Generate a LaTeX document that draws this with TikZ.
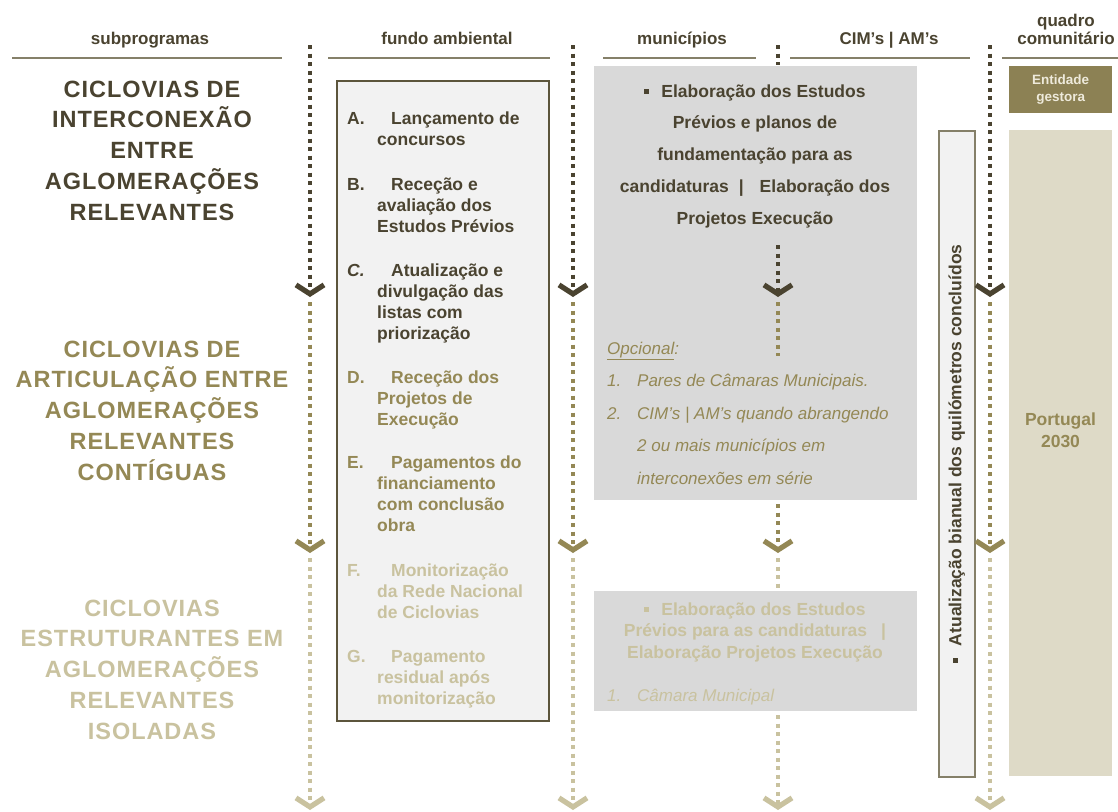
\documentclass[tikz,border=0pt]{standalone}
\usepackage{fontspec}
\setmainfont{Liberation Sans}
\usetikzlibrary{arrows.meta}

\definecolor{dk}{HTML}{4A4330}
\definecolor{ol}{HTML}{948855}
\definecolor{lt}{HTML}{C9C29F}
\definecolor{rulec}{HTML}{858069}
\definecolor{boxgray}{HTML}{D9D9D9}
\definecolor{panel}{HTML}{F2F2F2}
\definecolor{framec}{HTML}{5C553C}
\definecolor{entfill}{HTML}{8C8154}
\definecolor{enttext}{HTML}{EEEADB}
\definecolor{ptfill}{HTML}{DEDAC7}

% small square bullet
\newcommand\sqbul{\rule[0.2em]{0.28em}{0.28em}}

\begin{document}
\begin{tikzpicture}[x=1pt,y=-1pt,
  hdr/.style={font=\fontsize{17}{20}\selectfont\bfseries, text=dk, inner sep=0, anchor=base},
  hrule/.style={draw=rulec, line width=2pt},
  title/.style={font=\fontsize{23.5}{30.75}\selectfont\bfseries\addfontfeature{LetterSpace=4}, inner sep=0, anchor=base},
  item/.style={font=\fontsize{17.5}{21.3}\selectfont\bfseries, inner sep=0, anchor=base west},
  grayblock/.style={fill=boxgray, draw=none, inner sep=0, anchor=north west},
  panelbox/.style={fill=panel, draw=framec, line width=1.5pt, inner sep=0, anchor=north west},
  flow/.style={line width=4pt, dash pattern=on 4pt off 4.5pt},
  flowtip/.style={flow, -{Straight Barb[length=9pt,width=28pt,line width=5.2pt]}}
]
\useasboundingbox (0,0) rectangle (1118,811);
\fill[white] (0,0) rectangle (1118,811);

% ---------- column headers ----------
\node[hdr] (hsub) at (150,44) {subprogramas};
\node[hdr] (hfun) at (447,44) {fundo ambiental};
\node[hdr] (hmun) at (682,44) {municípios};
\node[hdr] (hcim) at (889,44) {CIM’s | AM’s};
\node[hdr] (hqua) at (1066,26) {\begin{tabular}[t]{@{}c@{}}quadro\\[-2pt]comunitário\end{tabular}};

\coordinate (r1a) at (12,58);   \coordinate (r1b) at (282,58);
\coordinate (r2a) at (328,58);  \coordinate (r2b) at (550,58);
\coordinate (r3a) at (603,58);  \coordinate (r3b) at (756,58);
\coordinate (r4a) at (790,58);  \coordinate (r4b) at (970,58);
\coordinate (r5a) at (1002,58); \coordinate (r5b) at (1118,58);
\draw[hrule] (r1a) -- (r1b);
\draw[hrule] (r2a) -- (r2b);
\draw[hrule] (r3a) -- (r3b);
\draw[hrule] (r4a) -- (r4b);
\draw[hrule] (r5a) -- (r5b);

% ---------- boxes ----------
\node[panelbox, minimum width=212pt, minimum height=640pt] (fundo) at (336,80) {};
\node[grayblock, minimum width=323pt, minimum height=434pt] (munA) at (594,66) {};
\node[grayblock, minimum width=323pt, minimum height=120pt] (munB) at (594,591) {};
\node[panelbox, draw=rulec, minimum width=36pt, minimum height=646pt] (atual) at (938,130) {};
\node[fill=entfill, inner sep=0, anchor=north west, minimum width=103pt, minimum height=47pt] (ent) at (1009,66) {};
\node[fill=ptfill, inner sep=0, anchor=north west, minimum width=103pt, minimum height=646pt] (pt) at (1009,130) {};

% ---------- dotted flow lines ----------
\foreach \c/\x in {a/310, b/573, d/990}{
  \coordinate (\c0) at (\x,45);
  \coordinate (\c1) at (\x,297);
  \coordinate (\c2) at (\x,302);
  \coordinate (\c3) at (\x,553);
  \coordinate (\c4) at (\x,558);
  \coordinate (\c5) at (\x,810);
  \draw[flowtip, dk] (\c0) -- (\c1);
  \draw[flowtip, ol] (\c2) -- (\c3);
  \draw[flowtip, lt] (\c4) -- (\c5);
}
% municipal column: interrupted by the grey blocks
\coordinate (m0) at (778,45);  \coordinate (m0e) at (778,65);
\coordinate (m1s) at (778,245); \coordinate (m1) at (778,297);
\coordinate (m2) at (778,302); \coordinate (m2e) at (778,356);
\coordinate (m3s) at (778,504); \coordinate (m3) at (778,553);
\coordinate (m4) at (778,558); \coordinate (m4e) at (778,590);
\coordinate (m5s) at (778,715); \coordinate (m5) at (778,810);
\draw[flow, dk] (m0) -- (m0e);
\draw[flowtip, dk] (m1s) -- (m1);
\draw[flow, ol] (m2) -- (m2e);
\draw[flowtip, ol] (m3s) -- (m3);
\draw[flow, lt] (m4) -- (m4e);
\draw[flowtip, lt] (m5s) -- (m5);

% ---------- subprogram titles ----------
\node[title, text=dk] (t1) at (152,97) {\begin{tabular}[t]{@{}c@{}}CICLOVIAS DE\\INTERCONEXÃO\\ENTRE\\AGLOMERAÇÕES\\RELEVANTES\end{tabular}};
\node[title, text=ol] (t2) at (152,357) {\begin{tabular}[t]{@{}c@{}}CICLOVIAS DE\\ARTICULAÇÃO ENTRE\\AGLOMERAÇÕES\\RELEVANTES\\CONTÍGUAS\end{tabular}};
\node[title, text=lt] (t3) at (152,616) {\begin{tabular}[t]{@{}c@{}}CICLOVIAS\\ESTRUTURANTES EM\\AGLOMERAÇÕES\\RELEVANTES\\ISOLADAS\end{tabular}};

% ---------- fundo ambiental steps ----------
\node[item, text=dk] (fa) at (347,124) {\begin{tabular}[t]{@{}l@{}l@{}}\makebox[30pt][l]{A.} & \hspace{14pt}Lançamento de\\ & concursos\end{tabular}};
\node[item, text=dk] (fb) at (347,190) {\begin{tabular}[t]{@{}l@{}l@{}}\makebox[30pt][l]{B.} & \hspace{14pt}Receção e\\ & avaliação dos\\ & Estudos Prévios\end{tabular}};
\node[item, text=dk] (fc) at (347,276) {\begin{tabular}[t]{@{}l@{}l@{}}\makebox[30pt][l]{\itshape C.} & \hspace{14pt}Atualização e\\ & divulgação das\\ & listas com\\ & priorização\end{tabular}};
\node[item, text=ol] (fd) at (347,383) {\begin{tabular}[t]{@{}l@{}l@{}}\makebox[30pt][l]{D.} & \hspace{14pt}Receção dos\\ & Projetos de\\ & Execução\end{tabular}};
\node[item, text=ol] (fe) at (347,468) {\begin{tabular}[t]{@{}l@{}l@{}}\makebox[30pt][l]{E.} & \hspace{14pt}Pagamentos do\\ & financiamento\\ & com conclusão\\ & obra\end{tabular}};
\node[item, text=lt] (ff) at (347,576) {\begin{tabular}[t]{@{}l@{}l@{}}\makebox[30pt][l]{F.} & \hspace{14pt}Monitorização\\ & da Rede Nacional\\ & de Ciclovias\end{tabular}};
\node[item, text=lt] (fg) at (347,662) {\begin{tabular}[t]{@{}l@{}l@{}}\makebox[30pt][l]{G.} & \hspace{14pt}Pagamento\\ & residual após\\ & monitorização\end{tabular}};

% ---------- municipios blocks ----------
\node[font=\fontsize{17.5}{31.75}\selectfont\bfseries, text=dk, inner sep=0, anchor=base] (mtxt) at (755,97)
  {\begin{tabular}[t]{@{}c@{}}\sqbul\hspace{12pt}Elaboração dos Estudos\\Prévios e planos de\\fundamentação para as\\candidaturas\hspace{10pt}|\hspace{16pt}Elaboração dos\\Projetos Execução\end{tabular}};
\node[font=\fontsize{17}{32.5}\selectfont\itshape, text=ol, inner sep=0, anchor=base west] (mopt) at (607,354)
  {\begin{tabular}[t]{@{}l@{}l@{}}\multicolumn{2}{@{}l@{}}{\underline{Opcional}:}\\
   \makebox[30pt][l]{1.} & Pares de Câmaras Municipais.\\
   2. & CIM’s | AM’s quando abrangendo\\
   & 2 ou mais municípios em\\
   & interconexões em série\end{tabular}};
\node[font=\fontsize{17.5}{21.5}\selectfont\bfseries, text=lt, inner sep=0, anchor=base] (mtxtB) at (755,615)
  {\begin{tabular}[t]{@{}c@{}}\sqbul\hspace{12pt}Elaboração dos Estudos\\Prévios para as candidaturas\hspace{14pt}|\\Elaboração Projetos Execução\end{tabular}};
\node[font=\fontsize{17}{20}\selectfont\itshape, text=lt, inner sep=0, anchor=base west] (moptB) at (607,701)
  {\makebox[30pt][l]{1.}Câmara Municipal};

% ---------- CIM / AM update bar ----------
\node[font=\fontsize{17.5}{20}\selectfont\bfseries, text=dk, inner sep=0, rotate=90] (atxt) at (atual.center)
  {\sqbul\hspace{12pt}Atualização bianual dos quilómetros concluídos};

% ---------- quadro comunitario ----------
\node[font=\fontsize{13.5}{17}\selectfont\bfseries, text=enttext, inner sep=0] (enttxt) at (ent.center)
  {\begin{tabular}{@{}c@{}}Entidade\\gestora\end{tabular}};
\node[font=\fontsize{17.5}{22}\selectfont\bfseries, text=ol, inner sep=0] (pttxt) at (1060.5,432)
  {\begin{tabular}{@{}c@{}}Portugal\\2030\end{tabular}};
\end{tikzpicture}
\end{document}
